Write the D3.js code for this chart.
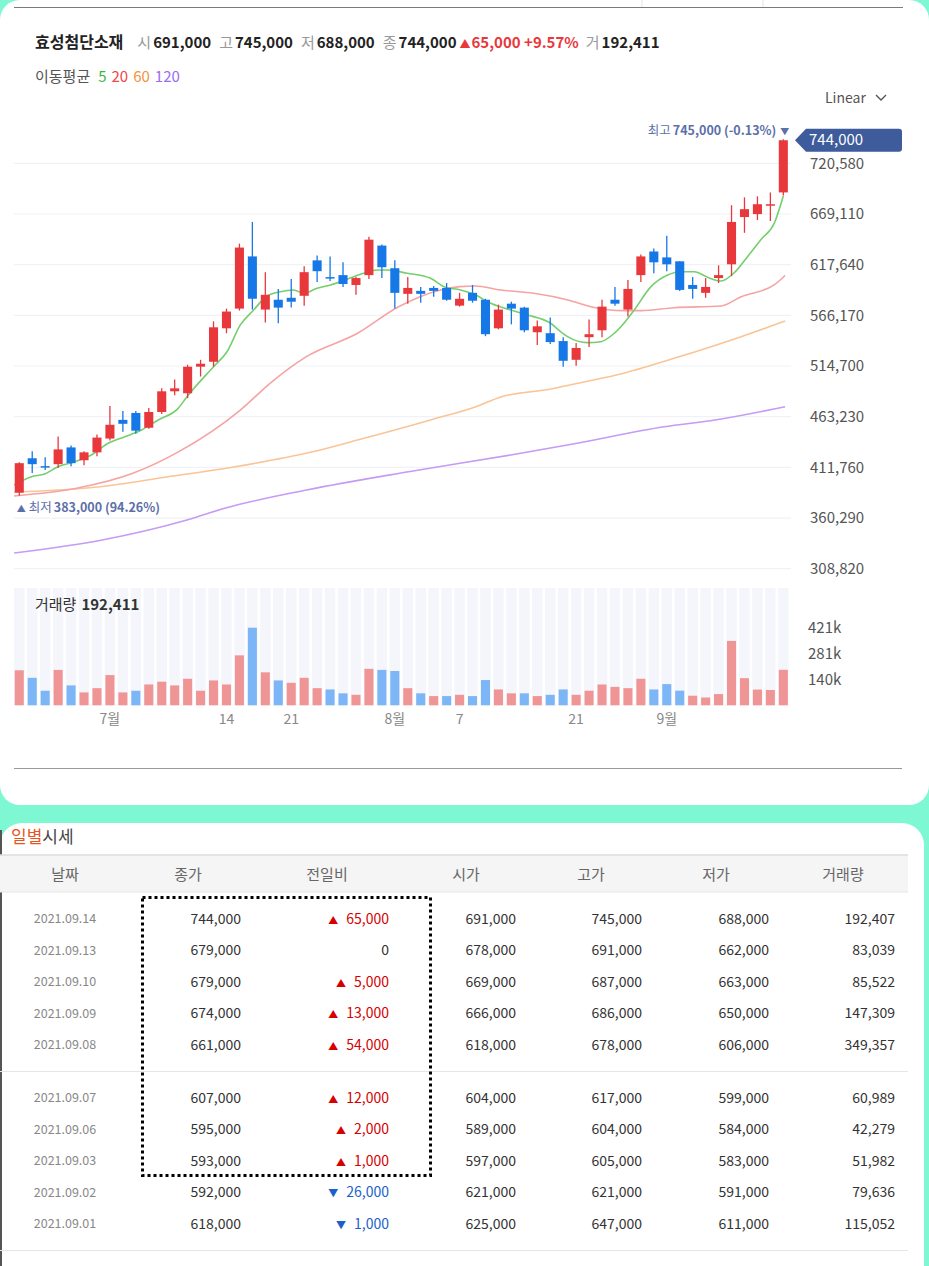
<!DOCTYPE html>
<html>
<head>
<meta charset="utf-8">
<title>효성첨단소재 일봉 차트</title>
<script src="https://d3js.org/d3.v7.min.js"></script>
<style>
  body { margin: 0; background: #7ef8d3; }
  svg { display: block; font-family: "Noto Sans CJK KR", "Noto Sans", sans-serif; }
</style>
</head>
<body>
<svg id="chart" width="929" height="1266"></svg>
<script>
// ---- data ----
var dates = [
  "2021-06-22","2021-06-23","2021-06-24","2021-06-25","2021-06-28","2021-06-29","2021-06-30",
  "2021-07-01","2021-07-02","2021-07-05","2021-07-06","2021-07-07","2021-07-08","2021-07-09",
  "2021-07-12","2021-07-13","2021-07-14","2021-07-15","2021-07-16","2021-07-19","2021-07-20",
  "2021-07-21","2021-07-22","2021-07-23","2021-07-26","2021-07-27","2021-07-28","2021-07-29",
  "2021-07-30","2021-08-02","2021-08-03","2021-08-04","2021-08-05","2021-08-06","2021-08-09",
  "2021-08-10","2021-08-11","2021-08-12","2021-08-13","2021-08-17","2021-08-18","2021-08-19",
  "2021-08-20","2021-08-23","2021-08-24","2021-08-25","2021-08-26","2021-08-27","2021-08-30",
  "2021-08-31","2021-09-01","2021-09-02","2021-09-03","2021-09-06","2021-09-07","2021-09-08",
  "2021-09-09","2021-09-10","2021-09-13","2021-09-14"
];
// prices in thousands of won
var open  = [386,421,413,415,432,419,427,441,460,467,452,468,489,487,514,519,553,573,626,572,
             582,584,586,622,605,607,597,607,637,614,588,591,594,594,576,589,582,553,578,574,
             549,548,540,521,544,551,582,572,607,631,625,621,597,589,604,618,666,669,678,691];
var high  = [417,428,422,443,434,428,445,474,469,469,472,492,501,516,521,560,573,639,661,610,
             593,603,616,627,626,620,605,646,638,622,605,595,596,599,589,597,583,577,580,575,
             561,564,544,538,562,582,595,602,628,634,647,621,605,604,617,678,686,687,691,745];
var low   = [383,406,409,411,413,414,423,439,448,446,451,466,485,482,504,514,548,571,572,559,
             558,574,576,600,601,595,587,603,604,573,578,579,585,581,575,579,545,552,557,549,
             536,537,514,515,534,544,576,565,600,609,611,591,583,584,599,606,650,663,662,688];
var close = [416,415,412,430,416,427,442,455,456,449,468,489,492,514,517,554,570,635,583,587,
             574,580,610,611,604,598,604,643,615,589,594,588,591,582,583,581,547,572,573,551,
             555,539,520,533,547,575,578,593,626,620,618,592,593,595,607,661,674,679,679,744];
var volume = [190000,149000,79000,192000,108000,70000,93000,164000,70000,79000,113000,128000,
              108000,144000,79000,135000,113000,271000,421070,179000,135000,122000,149000,93000,
              86000,65000,57000,198000,192000,186000,93000,65000,50000,50000,57000,50000,137000,
              86000,65000,65000,50000,57000,86000,57000,79000,113000,100000,93000,144000,86000,
              115052,79636,51982,42279,60989,349357,147309,85522,83039,192407];

// moving averages: bar position -> value
var ma5At  = [-0.4,0.93,1.96,2.99,4.28,5.57,6.86,8.15,9.44,10.73,12.27,12.95,15.0,16.04,17.07,18.1,
              19.13,20.16,21.19,21.96,23.0,24.03,24.8,26.6,27.64,28.4,29.96,31.76,32.79,34.08,35.37,
              36.15,37.95,39.24,41.03,41.8,42.34,43.88,44.91,45.94,46.46,47.49,48.78,50.07,51.1,
              52.13,53.16,54.19,55.22,56.25,57.28,58.31,59];
var ma5    = [393800,402300,405000,412400,417500,424300,436200,442900,449700,459900,471700,483500,
              514000,529200,556400,571600,585800,590200,591900,588600,593600,597000,600300,608900,
              612200,612200,608900,603800,595300,591900,586100,580000,571600,566500,558100,549600,
              544500,538400,539400,547900,554600,571600,595300,607100,610500,610500,604800,601000,
              609600,626000,643200,660000,687400];
var ma20At = [-0.4,4.42,8.77,12.32,17.07,19.39,22.17,26.12,29.29,32.54,34.0,35.2,37.18,39.73,42.36,
              44.13,46.69,48.0,50.56,54.19,55.74,58.29,59.14];
var ma20   = [382700,390500,405700,427700,470000,497400,524200,547900,574900,591900,595300,596000,
              591900,588600,581800,574900,570900,570900,573900,575700,585100,597000,606600];
var ma60At = [-0.4,6.24,11.4,16.55,22.48,26.12,31.76,35.2,37.18,41.04,43.6,46.46,50.56,55.74,59.14];
var ma60   = [386700,392100,402000,412100,427000,439500,459900,473100,483200,491300,498500,506600,
              522500,544500,560400];
var ma120At = [-0.4,6.4,12.95,15.87,22.17,30.06,37.95,43.09,49.78,53.73,59.14];
var ma120   = [324800,338000,358300,370200,388700,407300,424300,436200,453000,459900,473400];

var priceTicks = [308820,360290,411760,463230,514700,566170,617640,669110,720580];
var xTickDates  = ["2021-07-01","2021-07-14","2021-07-21","2021-08-02","2021-08-09","2021-08-23","2021-09-01"];
var xTickLabels = ["7월","14","21","8월","7","21","9월"];

var stockName = "효성첨단소재";
var headLabels = ["시","고","저","종"];
var headValues = ["691,000","745,000","688,000","744,000"];
var headChange = "65,000 +9.57%";
var headVolume = "192,411";
var maNames  = ["5","20","60","120"];

// daily table
var tDates  = ["2021.09.14","2021.09.13","2021.09.10","2021.09.09","2021.09.08",
               "2021.09.07","2021.09.06","2021.09.03","2021.09.02","2021.09.01"];
var tClose  = ["744,000","679,000","679,000","674,000","661,000","607,000","595,000","593,000","592,000","618,000"];
var tChange = ["65,000","0","5,000","13,000","54,000","12,000","2,000","1,000","26,000","1,000"];
var tDir    = [1,0,1,1,1,1,1,1,-1,-1];
var tOpen   = ["691,000","678,000","669,000","666,000","618,000","604,000","589,000","597,000","621,000","625,000"];
var tHigh   = ["745,000","691,000","687,000","686,000","678,000","617,000","604,000","605,000","621,000","647,000"];
var tLow    = ["688,000","662,000","663,000","650,000","606,000","599,000","584,000","583,000","591,000","611,000"];
var tVol    = ["192,407","83,039","85,522","147,309","349,357","60,989","42,279","51,982","79,636","115,052"];
var tHeaders = ["날짜","종가","전일비","시가","고가","저가","거래량"];

// ---- colours ----
var UP = "#e8383c", DOWN = "#1677e6";
var UPV = "#f09596", DOWNV = "#7db6f6";
var maColors = ["#74cf6c","#f5a3a3","#f9c596","#c49bf5"];
var maLegend = ["#3cb53c","#f04646","#f3923e","#9b6cf0"];
var ANNO = "#5d6fa8";

var svg = d3.select("#chart");

// ---- cards ----
svg.append("rect").attr("x", 0).attr("y", 0).attr("width", 929).attr("height", 805)
    .attr("rx", 20).attr("fill", "#fff");
svg.append("rect").attr("x", 0).attr("y", 823).attr("width", 924).attr("height", 480)
    .attr("rx", 22).attr("fill", "#fff");
svg.append("line").attr("x1", 14).attr("x2", 903).attr("y1", 7.5).attr("y2", 7.5)
    .attr("stroke", "#7a7a7a").attr("stroke-width", 1.2);
[642, 763].forEach(function (x) {
  svg.append("line").attr("x1", x).attr("x2", x).attr("y1", 0).attr("y2", 7)
      .attr("stroke", "#e3e3e3");
});

// ---- header ----
var head = svg.append("text").attr("x", 35).attr("y", 43).attr("dy", "0.35em")
    .attr("font-size", 15);
head.append("tspan").attr("font-weight", 700).attr("fill", "#222").attr("font-size", 16).text(stockName);
headLabels.forEach(function (l, i) {
  head.append("tspan").attr("dx", i == 0 ? 14 : 8).attr("fill", "#999").text(l);
  head.append("tspan").attr("dx", 2).attr("font-weight", 700).attr("fill", "#222").text(headValues[i]);
});
head.append("tspan").attr("dx", 3).attr("fill", UP).attr("font-size", 11).text("▲");
head.append("tspan").attr("dx", 1).attr("fill", UP).attr("font-weight", 700).text(headChange);
head.append("tspan").attr("dx", 7).attr("fill", "#999").text("거");
head.append("tspan").attr("dx", 2).attr("font-weight", 700).attr("fill", "#222").text(headVolume);

var leg = svg.append("text").attr("x", 35).attr("y", 77).attr("dy", "0.35em").attr("font-size", 15);
leg.append("tspan").attr("fill", "#555").text("이동평균");
maNames.forEach(function (m, i) {
  leg.append("tspan").attr("dx", i == 0 ? 8 : 5).attr("fill", maLegend[i]).text(m);
});

svg.append("text").attr("x", 825).attr("y", 98).attr("dy", "0.35em").attr("font-size", 14)
    .attr("fill", "#555").text("Linear");
svg.append("path").attr("d", "M876,95 l5,5 l5,-5").attr("fill", "none")
    .attr("stroke", "#555").attr("stroke-width", 1.4);

// ---- scales ----
var n = dates.length;
var x = d3.scaleBand().domain(dates).range([12.8, 789.8]).paddingInner(0.3).paddingOuter(0.15);
var bw = x.bandwidth();
var cx = function (d) { return x(d) + bw / 2; };
var xi = d3.scaleLinear().domain([0, n - 1]).range([cx(dates[0]), cx(dates[n - 1])]);
var y = d3.scaleLinear().domain([308820, 720580]).range([568.7, 163.3]);
var vMax = d3.max(volume);
var yv = d3.scaleLinear().domain([0, vMax]).range([705.3, 627.7]);

var K = 1000;
var bars = d3.range(n).map(function (i) {
  return {date: dates[i], o: open[i] * K, h: high[i] * K, l: low[i] * K, c: close[i] * K,
          v: volume[i], up: close[i] >= open[i],
          vup: i == 0 ? close[i] >= open[i] : close[i] >= close[i - 1]};
});

// ---- grid + price axis ----
svg.append("g").selectAll("line").data(priceTicks).join("line")
    .attr("x1", 14).attr("x2", 791)
    .attr("y1", function (d) { return y(d); }).attr("y2", function (d) { return y(d); })
    .attr("stroke", "#f0f2f6").attr("stroke-width", 1.2);

var yAxis = svg.append("g").attr("transform", "translate(804,0)")
    .call(d3.axisRight(y).tickValues(priceTicks).tickFormat(d3.format(",")).tickSize(0).tickPadding(6));
yAxis.select(".domain").remove();
yAxis.selectAll("text").attr("font-size", 15).attr("fill", "#555")
    .attr("font-family", "\"Noto Sans CJK KR\", sans-serif");

// ---- moving averages ----
var maSets = [[ma120At, ma120], [ma60At, ma60], [ma20At, ma20], [ma5At, ma5]];
var maCols = [maColors[3], maColors[2], maColors[1], maColors[0]];
svg.append("clipPath").attr("id", "plot").append("rect")
    .attr("x", 14).attr("y", 100).attr("width", 777).attr("height", 470);
var maLine = d3.line()
    .x(function (d) { return xi(d[0]); })
    .y(function (d) { return y(d[1]); })
    .curve(d3.curveMonotoneX);
maSets.forEach(function (s, k) {
  svg.append("path").datum(d3.zip(s[0], s[1]))
      .attr("clip-path", "url(#plot)")
      .attr("fill", "none").attr("stroke", maCols[k]).attr("stroke-width", 1.6)
      .attr("d", maLine);
});

// ---- candles ----
var candles = svg.append("g").selectAll("g").data(bars).join("g");
candles.append("line")
    .attr("x1", function (d) { return cx(d.date); }).attr("x2", function (d) { return cx(d.date); })
    .attr("y1", function (d) { return y(d.h); }).attr("y2", function (d) { return y(d.l); })
    .attr("stroke", function (d) { return d.up ? UP : DOWN; }).attr("stroke-width", 1.3);
candles.append("rect")
    .attr("x", function (d) { return x(d.date); }).attr("width", bw)
    .attr("y", function (d) { return y(Math.max(d.o, d.c)); })
    .attr("height", function (d) { return Math.max(1.5, Math.abs(y(d.o) - y(d.c))); })
    .attr("fill", function (d) { return d.up ? UP : DOWN; });

// ---- high / low annotations ----
var hiBar = bars[d3.maxIndex(bars, function (d) { return d.h; })];
var loBar = bars[d3.minIndex(bars, function (d) { return d.l; })];
var last = bars[n - 1];
var fmt = d3.format(",");
var pctOf = function (a, b) { return ((a / b - 1) * 100).toFixed(2) + "%"; };

var hi = svg.append("text").attr("x", cx(hiBar.date) + 6).attr("y", y(hiBar.h) - 9)
    .attr("dy", "0.35em").attr("text-anchor", "end").attr("font-size", 12.5).attr("fill", ANNO);
hi.append("tspan").text("최고");
hi.append("tspan").attr("dx", 2).attr("font-weight", 700)
    .text(fmt(hiBar.h) + " (" + pctOf(last.c, hiBar.h) + ")");
hi.append("tspan").attr("dx", 4).attr("font-size", 9).text("▼");

var lo = svg.append("text").attr("x", x(loBar.date) + 2).attr("y", y(loBar.l) + 12)
    .attr("dy", "0.35em").attr("font-size", 12.5).attr("fill", ANNO);
lo.append("tspan").attr("font-size", 9).text("▲");
lo.append("tspan").attr("dx", 3).text("최저");
lo.append("tspan").attr("dx", 2).attr("font-weight", 700)
    .text(fmt(loBar.l) + " (" + pctOf(last.c, loBar.l) + ")");

// last price badge
var by = y(last.c);
svg.append("path")
    .attr("d", "M795," + by + " L806," + (by - 11.5) + " H899 Q902," + (by - 11.5) + " 902," + (by - 8.5) +
         " V" + (by + 8.5) + " Q902," + (by + 11.5) + " 899," + (by + 11.5) + " H806 Z")
    .attr("fill", "#3e5b9c");
svg.append("text").attr("x", 809).attr("y", by).attr("dy", "0.35em").attr("font-size", 15)
    .attr("fill", "#fff").text(fmt(last.c));

// ---- volume ----
svg.append("g").selectAll("rect").data(bars).join("rect")
    .attr("x", function (d) { return cx(d.date) - 5.2; }).attr("width", 10.4)
    .attr("y", 588).attr("height", yv(0) - 588)
    .attr("fill", "#f4f6fb");
svg.append("g").selectAll("rect").data(bars).join("rect")
    .attr("x", function (d) { return x(d.date); }).attr("width", bw)
    .attr("y", function (d) { return yv(d.v); })
    .attr("height", function (d) { return yv(0) - yv(d.v); })
    .attr("fill", function (d) { return d.vup ? UPV : DOWNV; });

var vl = svg.append("text").attr("x", 35).attr("y", 605).attr("dy", "0.35em").attr("font-size", 15)
    .attr("fill", "#333");
vl.append("tspan").text("거래량");
vl.append("tspan").attr("dx", 5).attr("font-weight", 700).text(headVolume);

var vAxis = svg.append("g").attr("transform", "translate(802,0)")
    .call(d3.axisRight(yv).tickValues([vMax / 3, vMax * 2 / 3, vMax])
      .tickFormat(function (d) { return Math.round(d / 1000) + "k"; }).tickSize(0).tickPadding(6));
vAxis.select(".domain").remove();
vAxis.selectAll("text").attr("font-size", 15).attr("fill", "#555")
    .attr("font-family", "\"Noto Sans CJK KR\", sans-serif");

// ---- x labels ----
svg.append("g").selectAll("text").data(xTickDates).join("text")
    .attr("x", function (d) { return cx(d); }).attr("y", 719).attr("dy", "0.35em")
    .attr("text-anchor", "middle").attr("font-size", 14).attr("fill", "#888")
    .text(function (d, i) { return xTickLabels[i]; });

svg.append("line").attr("x1", 14).attr("x2", 902).attr("y1", 768.5).attr("y2", 768.5)
    .attr("stroke", "#999");

// ---- daily table ----
var tt = svg.append("text").attr("x", 11).attr("y", 837).attr("dy", "0.35em").attr("font-size", 17);
tt.append("tspan").attr("fill", "#e8541e").text("일별");
tt.append("tspan").attr("fill", "#444").text("시세");

svg.append("line").attr("x1", 1).attr("x2", 1).attr("y1", 830).attr("y2", 1266)
    .attr("stroke", "#555").attr("stroke-width", 2);
svg.append("rect").attr("x", 0).attr("y", 855).attr("width", 908).attr("height", 37)
    .attr("fill", "#f5f5f5");
svg.append("line").attr("x1", 0).attr("x2", 908).attr("y1", 855).attr("y2", 855)
    .attr("stroke", "#ddd").attr("stroke-width", 1.5);
svg.append("line").attr("x1", 0).attr("x2", 908).attr("y1", 892).attr("y2", 892)
    .attr("stroke", "#e6e6e6");

var headX = [65, 188, 327, 466, 591, 716, 843];
svg.append("g").selectAll("text").data(tHeaders).join("text")
    .attr("x", function (d, i) { return headX[i]; }).attr("y", 875).attr("dy", "0.35em")
    .attr("text-anchor", "middle").attr("font-size", 15).attr("fill", "#666")
    .text(function (d) { return d; });

var rowY = tDates.map(function (d, i) { return i < 5 ? 919 + i * 31.5 : 1098 + (i - 5) * 31.5; });
[1071.5, 1250.5].forEach(function (yy) {
  svg.append("line").attr("x1", 0).attr("x2", 908).attr("y1", yy).attr("y2", yy)
      .attr("stroke", "#e6e6e6");
});

var colR = [241, 389, 516, 642, 769, 895];
var rows = svg.append("g").selectAll("g").data(tDates).join("g")
    .attr("transform", function (d, i) { return "translate(0," + rowY[i] + ")"; });
rows.append("text").attr("x", 65).attr("dy", "0.35em").attr("text-anchor", "middle")
    .attr("font-size", 12.5).attr("fill", "#888").text(function (d) { return d; });
[tClose, null, tOpen, tHigh, tLow, tVol].forEach(function (col, c) {
  if (!col) return;
  rows.append("text").attr("x", colR[c]).attr("dy", "0.35em").attr("text-anchor", "end")
      .attr("font-size", 14).attr("fill", "#333").text(function (d, i) { return col[i]; });
});
var chg = rows.append("text").attr("x", colR[1]).attr("dy", "0.35em").attr("text-anchor", "end")
    .attr("font-size", 14)
    .attr("fill", function (d, i) { return tDir[i] > 0 ? "#d60000" : tDir[i] < 0 ? "#1a5fcc" : "#333"; });
chg.append("tspan").attr("font-size", 10)
    .text(function (d, i) { return tDir[i] > 0 ? "▲" : tDir[i] < 0 ? "▼" : ""; });
chg.append("tspan").attr("dx", function (d, i) { return tDir[i] ? 8 : 0; })
    .text(function (d, i) { return tChange[i]; });

// highlight box
svg.append("rect").attr("x", 142.5).attr("y", 897.5).attr("width", 288).attr("height", 278)
    .attr("fill", "none").attr("stroke", "#000").attr("stroke-width", 3)
    .attr("stroke-dasharray", "3,3");
</script>
</body>
</html>
